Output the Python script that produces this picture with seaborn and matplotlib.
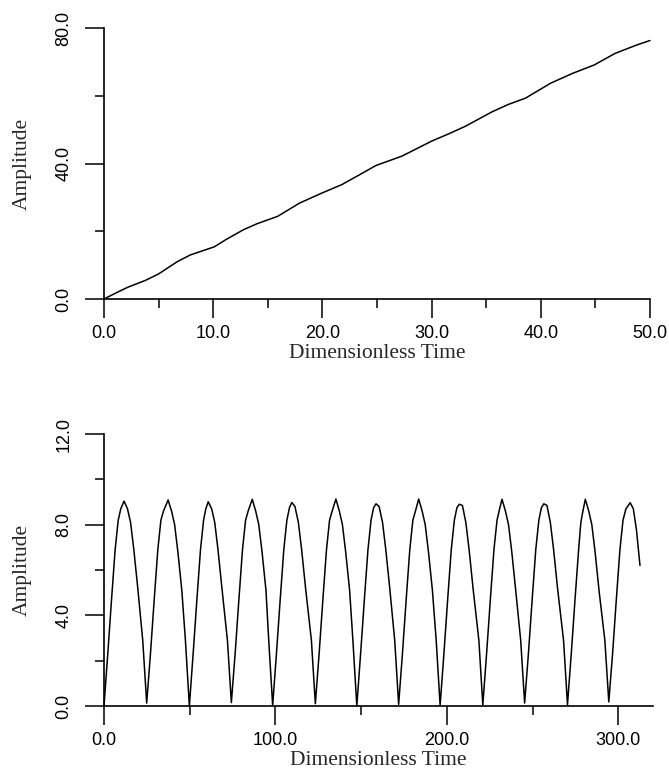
import matplotlib
matplotlib.use("Agg")
import matplotlib.pyplot as plt
import seaborn as sns
import numpy as np
from matplotlib.ticker import FixedLocator, FormatStrFormatter

# ---------------- data ----------------
top_t = [0, 1.1, 2.2, 3.8, 5.0, 6.7, 7.9, 10.1, 11.2, 12.8, 14.0, 15.9, 17.9, 19.9, 21.8,
         23.8, 24.9, 27.3, 30.0, 31.6, 33.1, 35.5, 37.0, 38.6, 40.9, 42.9, 44.9, 46.8, 48.8, 50.0]
top_amp = [0, 1.8, 3.5, 5.5, 7.4, 11.0, 13.0, 15.4, 17.6, 20.5, 22.2, 24.4, 28.3, 31.2, 33.8,
           37.4, 39.4, 42.2, 46.6, 48.8, 51.0, 55.2, 57.4, 59.3, 63.7, 66.6, 69.1, 72.5, 75.0, 76.3]

bot_t = [
    0.0, 2.2, 4.4, 6.5, 8.3, 9.8, 11.7, 13.7, 15.5, 17.4, 19.7, 22.6,
    24.9, 27.1, 29.3, 31.4, 33.2, 34.7, 37.4, 39.4, 41.2, 43.1, 45.4, 47.5,
    49.8, 52.0, 54.2, 56.3, 58.1, 59.4, 60.8, 62.8, 64.6, 66.5, 68.8, 72.0,
    74.3, 76.5, 78.7, 80.8, 82.6, 84.1, 86.5, 88.5, 90.3, 92.2, 94.5, 96.1,
    98.4, 100.6, 102.8, 104.9, 106.7, 108.2, 109.6, 111.4, 113.4, 115.3, 117.6, 121.0,
    123.3, 125.5, 127.7, 129.8, 131.6, 133.1, 135.3, 137.3, 139.1, 141.0, 143.3, 145.2,
    147.5, 149.7, 151.9, 154.0, 155.8, 157.3, 158.7, 160.5, 162.5, 164.4, 166.7, 169.6,
    171.9, 174.1, 176.3, 178.4, 180.2, 181.7, 183.6, 185.6, 187.4, 189.3, 191.6, 193.8,
    196.1, 198.3, 200.5, 202.6, 204.4, 205.9, 207.3, 209.1, 211.1, 213.0, 215.3, 218.7,
    221.0, 223.2, 225.4, 227.5, 229.3, 230.8, 232.2, 234.2, 236.0, 237.9, 240.2, 243.1,
    245.4, 247.6, 249.8, 251.9, 253.7, 255.2, 256.6, 258.4, 260.4, 262.3, 264.6, 268.1,
    270.4, 272.6, 274.8, 276.9, 278.2, 279.4, 280.8, 282.8, 284.6, 286.5, 288.8, 292.2,
    294.5, 296.7, 298.9, 301.0, 302.8, 304.5, 307.0, 308.8, 310.6, 312.7]
bot_amp = [
    0.0, 2.3, 4.7, 6.9, 8.2, 8.7, 9.04, 8.7, 8.1, 6.9, 5.2, 2.9,
    0.13, 2.3, 4.7, 6.9, 8.2, 8.6, 9.09, 8.6, 8.0, 6.8, 5.1, 2.9,
    0.0, 2.3, 4.7, 6.9, 8.2, 8.7, 9.01, 8.7, 8.1, 6.9, 5.2, 2.9,
    0.15, 2.3, 4.7, 6.9, 8.2, 8.6, 9.12, 8.6, 8.0, 6.8, 5.1, 2.9,
    0.03, 2.3, 4.7, 6.9, 8.2, 8.75, 8.98, 8.8, 8.1, 6.9, 5.2, 2.9,
    0.1, 2.3, 4.7, 6.9, 8.2, 8.6, 9.13, 8.6, 8.0, 6.8, 5.1, 2.9,
    0.0, 2.3, 4.7, 6.9, 8.2, 8.75, 8.92, 8.8, 8.1, 6.9, 5.2, 2.9,
    0.07, 2.3, 4.7, 6.9, 8.2, 8.6, 9.13, 8.6, 8.0, 6.8, 5.1, 2.9,
    0.03, 2.3, 4.7, 6.9, 8.2, 8.75, 8.9, 8.85, 8.1, 6.9, 5.2, 2.9,
    0.05, 2.3, 4.7, 6.9, 8.2, 8.7, 9.12, 8.6, 8.0, 6.8, 5.1, 2.9,
    0.13, 2.3, 4.7, 6.9, 8.2, 8.75, 8.92, 8.85, 8.1, 6.9, 5.2, 2.9,
    0.06, 2.3, 4.7, 6.9, 8.1, 8.6, 9.12, 8.6, 8.0, 6.8, 5.1, 2.9,
    0.18, 2.3, 4.7, 6.9, 8.2, 8.7, 8.97, 8.7, 7.8, 6.2]

top_xmajor = [0, 10, 20, 30, 40, 50]
top_xminor = [5, 15, 25, 35, 45]
top_ymajor = [0, 40, 80]
top_yminor = [20, 60]
bot_xmajor = [0, 100, 200, 300]
bot_xminor = [50, 150, 250]
bot_ymajor = [0, 4, 8, 12]
bot_yminor = [2, 6, 10]

xlabel = "Dimensionless Time"
ylabel = "Amplitude"

# ---------------- style ----------------
sns.set_style("ticks")
plt.rcParams["font.family"] = ["Liberation Sans", "DejaVu Sans"]

fig = plt.figure(figsize=(6.69, 7.72), dpi=100)
W, H = 669, 772
ax1 = fig.add_axes([104 / W, (H - 299) / H, (650 - 104) / W, (299 - 28) / H])
ax2 = fig.add_axes([104 / W, (H - 706) / H, (652.5 - 104) / W, (706 - 434) / H])

label_font = dict(family="Liberation Serif", size=15.5)


def style(ax, xlim, ylim, xmaj, xmin, ymaj, ymin):
    ax.set_xlim(*xlim)
    ax.set_ylim(*ylim)
    for s in ["top", "right"]:
        ax.spines[s].set_visible(False)
    for s in ["left", "bottom"]:
        ax.spines[s].set_linewidth(1.2)
        ax.spines[s].set_color("black")
    ax.xaxis.set_major_locator(FixedLocator(xmaj))
    ax.xaxis.set_minor_locator(FixedLocator(xmin))
    ax.yaxis.set_major_locator(FixedLocator(ymaj))
    ax.yaxis.set_minor_locator(FixedLocator(ymin))
    ax.xaxis.set_major_formatter(FormatStrFormatter("%.1f"))
    ax.yaxis.set_major_formatter(FormatStrFormatter("%.1f"))
    ax.tick_params(which="major", direction="out", length=13.5, width=1.1,
                   color="black", labelsize=13, labelcolor="black")
    ax.tick_params(which="minor", direction="out", length=6.5, width=1.1, color="black")
    ax.tick_params(axis="x", which="major", pad=5)
    ax.tick_params(axis="y", which="major", pad=9, labelrotation=90)
    for lbl in ax.get_yticklabels():
        lbl.set_va("center")
    ax.set_xlabel(xlabel, fontdict=label_font, labelpad=1.5)
    ax.set_ylabel(ylabel, fontdict=label_font, labelpad=17)
    ax.grid(False)


sns.lineplot(x=top_t, y=top_amp, ax=ax1, color="black", linewidth=1.1,
             sort=False, estimator=None)
style(ax1, (0, 50), (0, 80), top_xmajor, top_xminor, top_ymajor, top_yminor)

sns.lineplot(x=bot_t, y=bot_amp, ax=ax2, color="black", linewidth=1.1,
             sort=False, estimator=None)
style(ax2, (0, 320), (0, 12), bot_xmajor, bot_xminor, bot_ymajor, bot_yminor)

for ax in (ax1, ax2):
    for ln in ax.get_lines():
        ln.set_clip_on(False)

fig.savefig("out.png", dpi=100)
